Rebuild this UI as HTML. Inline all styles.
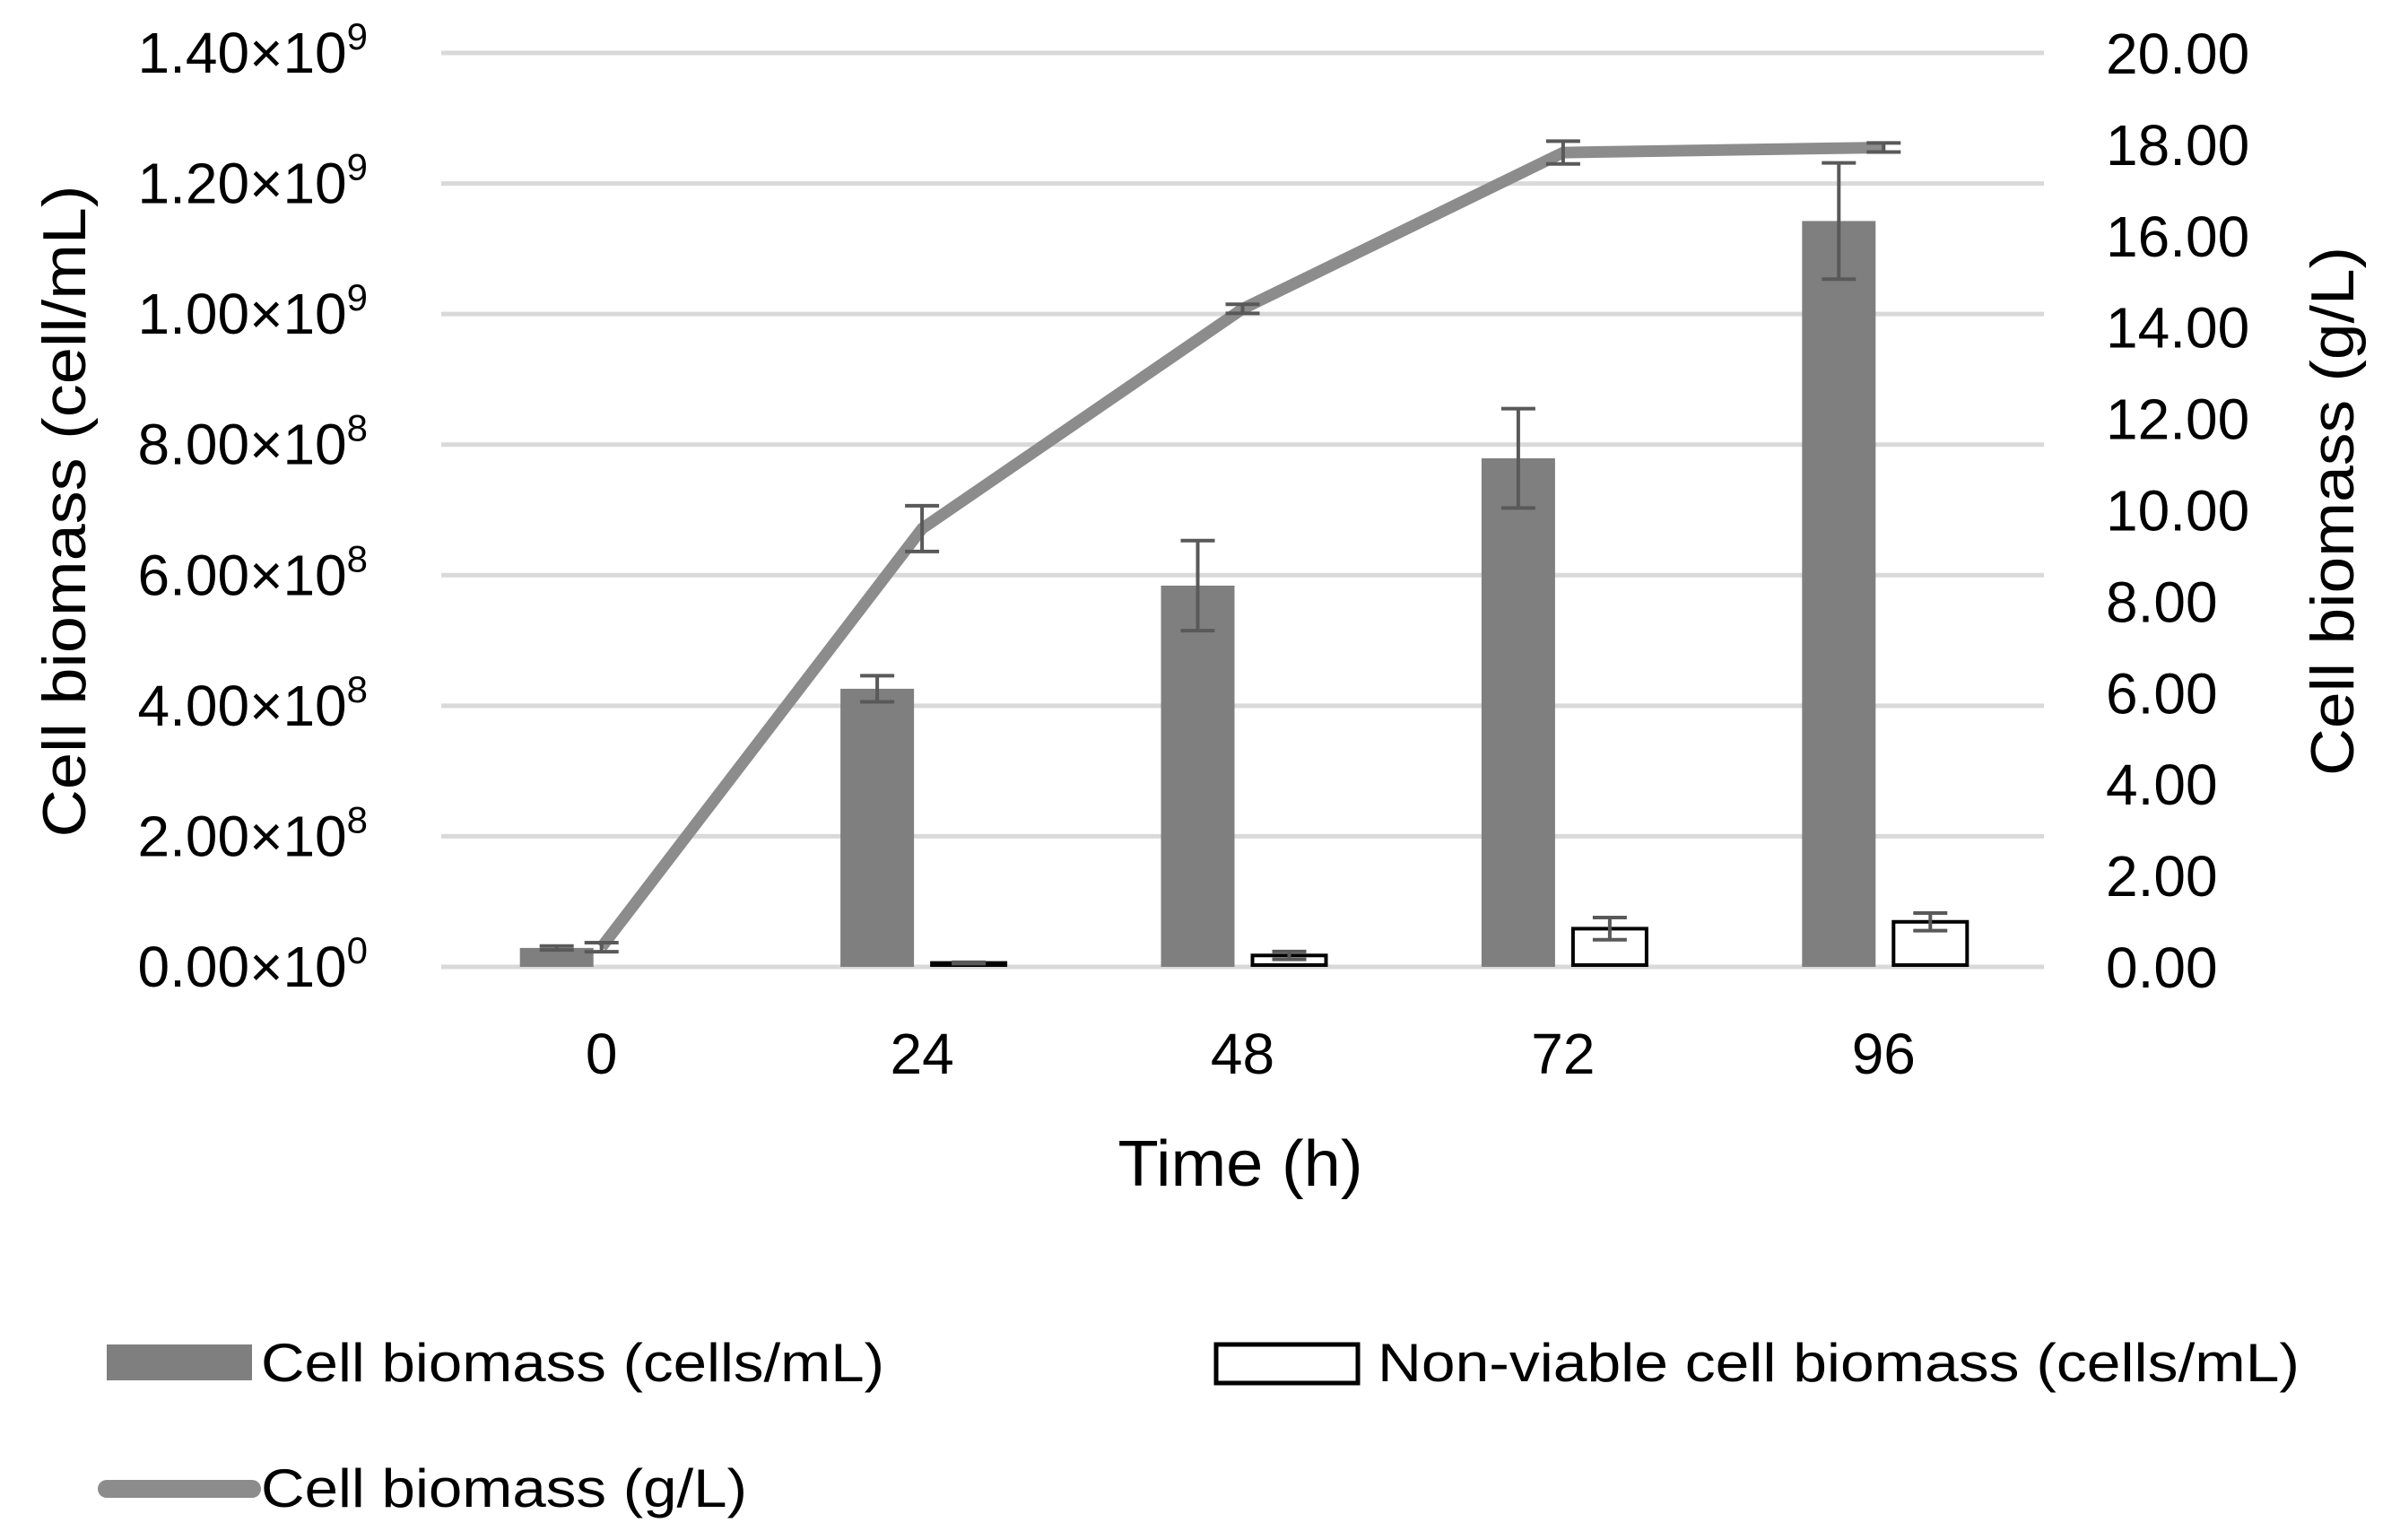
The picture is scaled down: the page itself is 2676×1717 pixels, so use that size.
<!DOCTYPE html>
<html><head><meta charset="utf-8"><style>
html,body{margin:0;padding:0;background:#fff;}
svg{display:block;font-family:"Liberation Sans",sans-serif;}
</style></head><body>
<svg id="chart" width="2676" height="1717" viewBox="0 0 2676 1717">
<g id="grid"></g>
<g id="bars"></g>
<g id="line"></g>
<g id="ylab" font-size="64" fill="#000"></g>
<g id="y2lab" font-size="64" fill="#000"></g>
<g id="xlab" font-size="64" fill="#000"></g>
<text x="0" y="0" font-size="68" transform="translate(95,570) rotate(-90)" text-anchor="middle" textLength="727" lengthAdjust="spacingAndGlyphs">Cell biomass (cell/mL)</text>
<text x="0" y="0" font-size="68" transform="translate(2624,570) rotate(-90)" text-anchor="middle" textLength="590" lengthAdjust="spacingAndGlyphs">Cell biomass (g/L)</text>
<text x="1383" y="1322" font-size="72" text-anchor="middle" textLength="273" lengthAdjust="spacingAndGlyphs">Time (h)</text>
<g>
 <g>
  <rect x="119" y="1499" width="162" height="40" fill="#7f7f7f"/>
  <text x="291" y="1540" font-size="60" textLength="695" lengthAdjust="spacingAndGlyphs">Cell biomass (cells/mL)</text>
 </g>
 <g>
  <rect x="1356" y="1499" width="158" height="43" fill="#fff" stroke="#000" stroke-width="5"/>
  <text x="1536" y="1540" font-size="60" textLength="1028" lengthAdjust="spacingAndGlyphs">Non-viable cell biomass (cells/mL)</text>
 </g>
 <g>
  <line x1="119" y1="1660" x2="281" y2="1660" stroke="#8c8c8c" stroke-width="20" stroke-linecap="round"/>
  <text x="291" y="1680" font-size="60" textLength="542" lengthAdjust="spacingAndGlyphs">Cell biomass (g/L)</text>
 </g>
</g>
</svg>
<script>
const categories = ["0","24","48","72","96"];
const cellsMean = [2.9e7, 4.26e8, 5.84e8, 7.79e8, 1.1425e9];
const cellsErr = [0.3e7, 0.2e8, 0.69e8, 0.76e8, 0.89e8];
const nonViableMean = [0, 0.6e7, 1.75e7, 5.85e7, 6.9e7];
const nonViableErr = [0, 0.1e7, 0.6e7, 1.7e7, 1.35e7];
const glMean = [0.43, 9.59, 14.4, 17.82, 17.93];
const glErr = [0.1, 0.5, 0.1, 0.25, 0.1];
const leftTicks = [0,2e8,4e8,6e8,8e8,1e9,1.2e9,1.4e9];
const leftTickBase = ["0.00","2.00","4.00","6.00","8.00","1.00","1.20","1.40"];
const leftTickExp = ["0","8","8","8","8","9","9","9"];
const rightTicks = [0,2,4,6,8,10,12,14,16,18,20];

const NS="http://www.w3.org/2000/svg";
const X0=492,X1=2279,Y0=1078,Y1=59;
const yL=v=>Y0-(v/1.4e9)*(Y0-Y1);
const yR=v=>Y0-(v/20)*(Y0-Y1);
const gw=(X1-X0)/categories.length;
const xc=i=>X0+gw*(i+0.5);
function mk(tag,attrs,parent){const e=document.createElementNS(NS,tag);for(const k in attrs)e.setAttribute(k,attrs[k]);parent.appendChild(e);return e;}
const grid=document.getElementById('grid');
leftTicks.forEach((t,i)=>{
 const l=mk('line',{x1:X0,x2:X1,y1:yL(t),y2:yL(t),stroke:'#d9d9d9','stroke-width':5},grid);
 
 
 const tx=mk('text',{x:410,y:yL(t)+22,'text-anchor':'end'},document.getElementById('ylab'));
 
 
 tx.innerHTML=leftTickBase[i]+'×10<tspan dy="-26" font-size="42">'+leftTickExp[i]+'</tspan>';
});
rightTicks.forEach(t=>{
 const tx=mk('text',{x:2348,y:yR(t)+23},document.getElementById('y2lab'));
 
 
 tx.textContent=t.toFixed(2);
});
const bars=document.getElementById('bars');
function err(x,y,e,scale,parent){
 const g=mk('g',{stroke:'#595959','stroke-width':4},parent);
 
 
 mk('line',{x1:x,x2:x,y1:scale(y+e),y2:scale(y-e)},g);
 mk('line',{x1:x-19,x2:x+19,y1:scale(y+e),y2:scale(y+e)},g);
 mk('line',{x1:x-19,x2:x+19,y1:scale(y-e),y2:scale(y-e)},g);
}
categories.forEach((c,i)=>{
 const cx=xc(i);
 const b=mk('rect',{x:cx-91,y:yL(cellsMean[i]),width:82,height:Y0-yL(cellsMean[i]),fill:'#7f7f7f'},bars);
 
 
 err(cx-50,cellsMean[i],cellsErr[i],yL,bars);
 if(nonViableMean[i]>0){
  const w=mk('rect',{x:cx+11,y:yL(nonViableMean[i]),width:82,height:Math.max(0,Y0-yL(nonViableMean[i])-2),fill:'#fff',stroke:'#000','stroke-width':4},bars);
  
  
  err(cx+52,nonViableMean[i],nonViableErr[i],yL,bars);
 }
 const xl=mk('text',{x:cx,y:1197,'text-anchor':'middle'},document.getElementById('xlab'));
 
 
 xl.textContent=c;
});
const lg=document.getElementById('line');
const p=mk('polyline',{points:glMean.map((v,i)=>xc(i)+','+yR(v)).join(' '),fill:'none',stroke:'#8c8c8c','stroke-width':13,'stroke-linejoin':'round'},lg);


glMean.forEach((v,i)=>err(xc(i),v,glErr[i],yR,lg));
</script>
</body></html>
